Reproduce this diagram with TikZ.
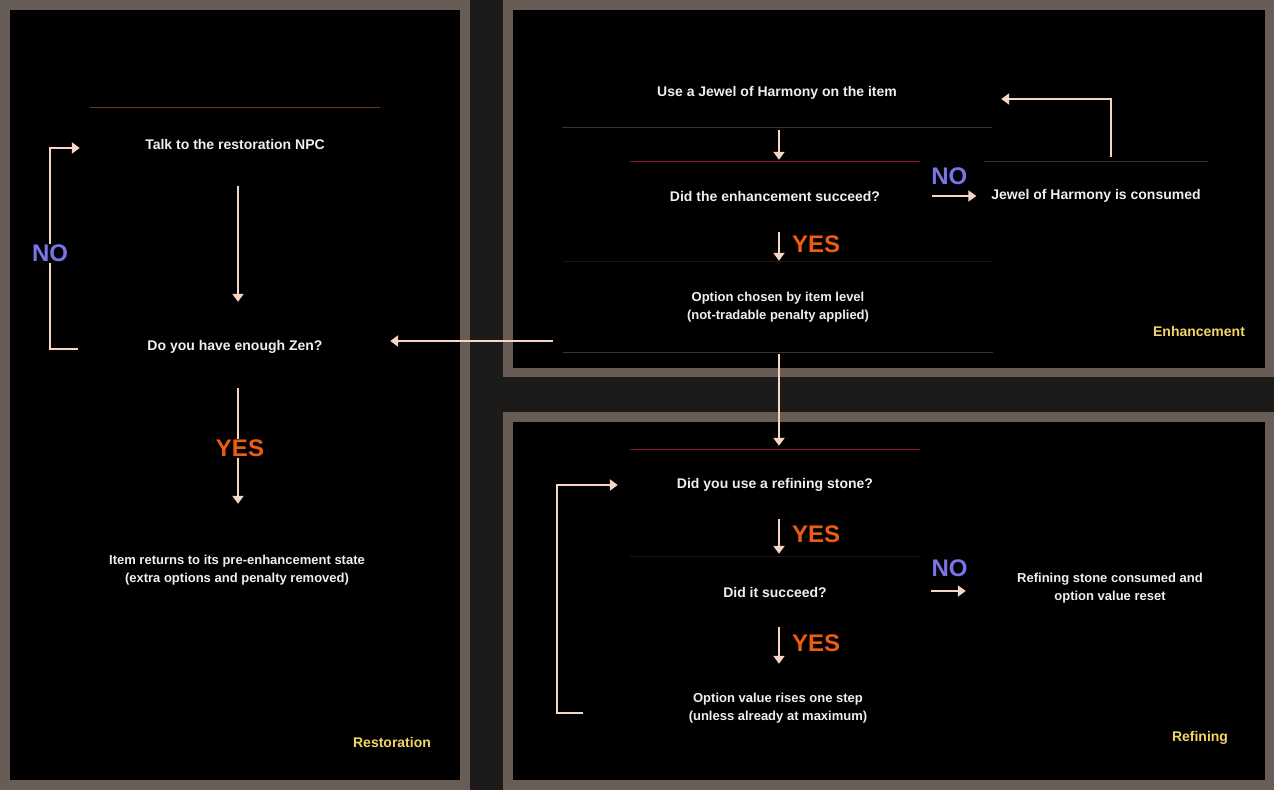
\documentclass[tikz,border=0pt]{standalone}
\usepackage{fontspec}
\setmainfont{Liberation Sans}
\usetikzlibrary{arrows.meta,calc}
\definecolor{gapc}{HTML}{1D1B19}
\definecolor{framec}{HTML}{685C56}
\definecolor{txtc}{HTML}{F2EEEA}
\definecolor{arrowc}{HTML}{F6D6C2}
\definecolor{yesc}{HTML}{EE5C12}
\definecolor{noc}{HTML}{7A74E6}
\definecolor{labc}{HTML}{F2D468}
\definecolor{sepred}{HTML}{8C1630}
\definecolor{sepbrown}{HTML}{6E3C18}
\definecolor{sepdim}{HTML}{44301E}
\definecolor{sepfaint}{HTML}{1A1816}
\begin{document}
\begin{tikzpicture}[x=1pt,y=-1pt,
  arr/.style={draw=arrowc, line width=2pt, -{Triangle[width=11pt,length=8pt]}},
  boxL/.style={inner sep=0pt, align=center, text=txtc, font=\bfseries\fontsize{14}{18}\selectfont},
  boxLs/.style={inner sep=0pt, align=center, text=txtc, font=\bfseries\fontsize{13}{18}\selectfont},
  yeslab/.style={text=yesc, font=\bfseries\fontsize{24}{24}\selectfont, inner sep=1pt},
  nolab/.style={text=noc, font=\bfseries\fontsize{24}{24}\selectfont, inner sep=1pt},
  panellab/.style={text=labc, inner sep=0pt, font=\bfseries\fontsize{14}{16}\selectfont},
  sep/.style={line width=1.2pt}
]
\useasboundingbox (0,0) rectangle (1274,790);
% background and panels
\fill[gapc] (0,0) rectangle (1274,790);
\fill[framec] (0,0) rectangle (470,790);
\fill[black] (10,10) rectangle (460,780);
\fill[framec] (503,0) rectangle (1274,377);
\fill[black] (513,10) rectangle (1265,368);
\fill[framec] (503,412) rectangle (1274,790);
\fill[black] (513,422) rectangle (1265,780);

% ---------- Restoration panel ----------
\node[boxL, minimum width=290pt, minimum height=72pt] (talk) at (235,144) {Talk to the restoration NPC};
\node[boxL, minimum width=290pt, minimum height=84pt] (zen) at (235,347) {Do you have enough Zen?};
\node[boxLs, minimum width=290pt, minimum height=120pt] (item) at (237,570) {Item returns to its pre-enhancement state\\(extra options and penalty removed)};
\node[panellab] (restlab) at (392,742) {Restoration};
\draw[sep, sepbrown] (talk.north west) -- (talk.north east);

% ---------- Enhancement panel ----------
\node[boxL, minimum width=430pt, minimum height=68pt] (use) at (777,93) {Use a Jewel of Harmony on the item};
\node[boxL, minimum width=290pt, minimum height=68pt] (succ) at (775,196) {Did the enhancement succeed?};
\node[boxL, minimum width=223pt, minimum height=68pt] (cons) at (1096,196) {Jewel of Harmony is consumed};
\node[boxLs, minimum width=430pt, minimum height=90pt] (opt) at (778,307) {Option chosen by item level\\(not-tradable penalty applied)};
\node[panellab] (enhlab) at (1199,331) {Enhancement};
\draw[sep, sepdim] (use.south west) -- (use.south east);
\draw[sep, sepred] (succ.north west) -- (succ.north east);
\draw[sep, sepdim] (cons.north west) -- (cons.north east);
\draw[sep, sepfaint] (opt.north west) -- (opt.north east);
\draw[sep, sepdim] (opt.south west) -- (opt.south east);

% ---------- Refining panel ----------
\node[boxL, minimum width=290pt, minimum height=70pt] (ref1) at (775,485) {Did you use a refining stone?};
\node[boxL, minimum width=290pt, minimum height=70pt] (ref2) at (775,592) {Did it succeed?};
\node[boxLs, minimum width=250pt, minimum height=70pt] (refno) at (1110,588) {Refining stone consumed and\\option value reset};
\node[boxLs, minimum width=390pt, minimum height=86pt] (ref3) at (778,708) {Option value rises one step\\(unless already at maximum)};
\node[panellab] (reflab) at (1200,738) {Refining};
\draw[sep, sepred] (ref1.north west) -- (ref1.north east);
\draw[sep, sepfaint] (ref2.north west) -- (ref2.north east);

% ---------- connectors ----------
% restoration
\draw[arr] ($(talk.south)+(3,6)$) -- ($(zen.north)+(3,-3)$);
\draw[arr] ($(zen.south)+(3,-1)$) -- ($(item.north)+(1,-6)$)
  node[yeslab, fill=black, midway, xshift=2pt, yshift=-2pt] (yesL) {YES};
\draw[arr] ($(zen.west)+(-12,2)$) -- ++(-28,0) |- ($(talk.west)+(-10,4)$);
\node[nolab, fill=black] (noL) at (50,253) {NO};
% enhancement -> restoration
\coordinate (lstart) at ($(opt.west)+(-10,34)$);
\draw[arr] (lstart) -- ($(zen.east |- lstart)+(10,0)$);
% enhancement
\draw[arr] ($(use.south)+(2,3)$) -- ($(succ.north)+(4,-2)$);
\draw[arr] ($(succ.east)+(12,0)$) -- ($(cons.west)+(-8,0)$)
  node[nolab, midway, yshift=20pt, xshift=-5pt] (noE) {NO};
\draw[arr] ($(cons.north)+(15,-5)$) |- ($(use.east)+(9,6)$);
\draw[arr] ($(succ.south)+(4,2)$) -- ($(opt.north)+(1,-1)$)
  node[yeslab, midway, anchor=west, xshift=11pt, yshift=2pt] (yesE) {YES};
\draw[arr] ($(opt.south)+(1,2)$) -- ($(ref1.north)+(4,-4)$);
% refining
\draw[arr] ($(ref1.south)+(4,-1)$) -- ($(ref2.north)+(4,-3)$)
  node[yeslab, midway, anchor=west, xshift=11pt, yshift=2pt] (yesR1) {YES};
\draw[arr] ($(ref2.east)+(11,-1)$) -- ($(refno.west)+(-19,3)$)
  node[nolab, midway, yshift=23pt, xshift=1pt] (noR) {NO};
\draw[arr] ($(ref2.south)+(4,0)$) -- ($(ref3.north)+(1,-1)$)
  node[yeslab, midway, anchor=west, xshift=11pt, yshift=2pt] (yesR2) {YES};
\draw[arr] ($(ref3.west)+(0,5)$) -- ++(-26,0) |- ($(ref1.west)+(-12,0)$);
\end{tikzpicture}
\end{document}
